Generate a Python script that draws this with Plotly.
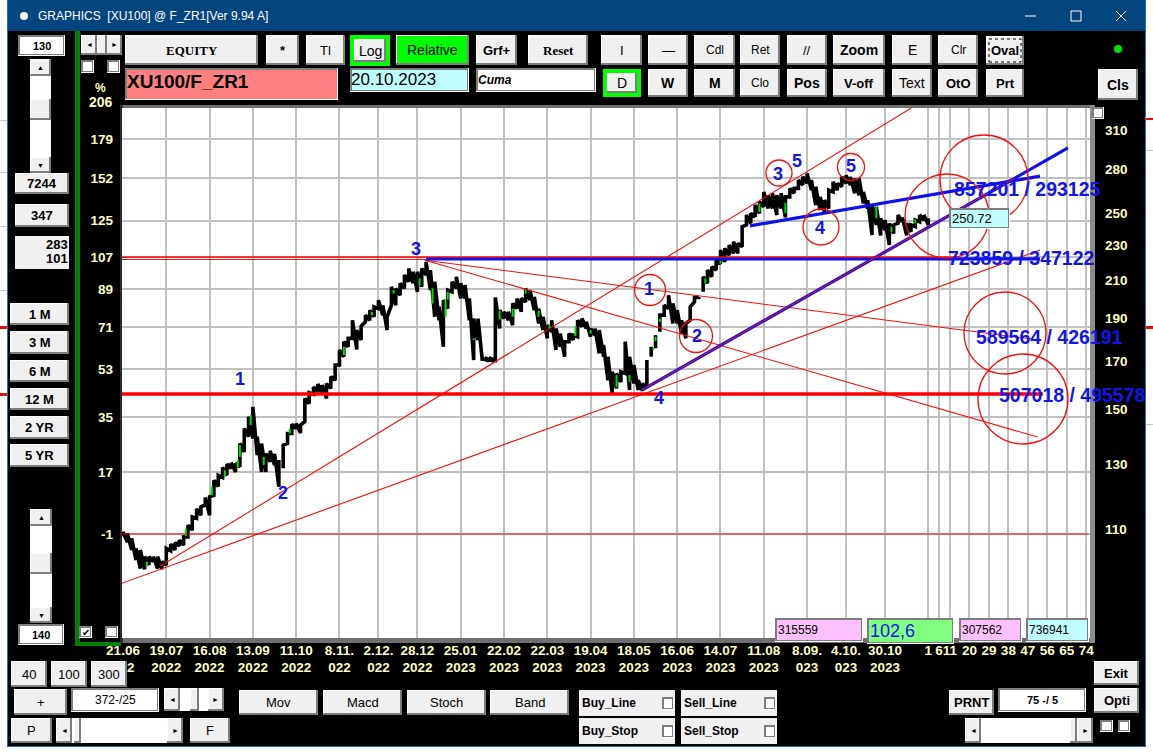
import plotly.graph_objects as go

W, H = 1153, 755

# daily bars, every second session
bar_day = list(range(0, 373, 2))
bar_high = [
    109.2, 108.8, 107.4, 104.6, 104.2, 102.4, 102.4, 102.4, 102.4, 101.1,
    104.6, 105.8, 106.2, 106.9, 107.8, 111.1, 113.5, 116.0, 116.5, 119.4,
    119.6, 124.9, 126.5, 129.1, 130.2, 130.7, 130.5, 137.4, 142.8, 147.3,
    151.1, 139.8, 137.4, 133.8, 134.8, 133.8, 131.6, 136.8, 141.0, 144.4,
    144.7, 144.1, 154.4, 156.7, 159.1, 160.3, 159.9, 160.5, 163.4, 168.4,
    175.1, 178.9, 180.5, 189.2, 184.4, 186.3, 191.7, 194.2, 195.9, 199.3,
    196.7, 190.9, 206.4, 205.5, 208.2, 212.8, 216.4, 214.6, 214.6, 216.4,
    220.2, 215.5, 209.1, 195.9, 199.3, 204.6, 209.1, 211.8, 208.2, 207.3,
    200.2, 190.0, 190.0, 171.3, 171.3, 171.3, 200.7, 194.2, 193.4, 193.4,
    197.6, 200.2, 200.2, 205.5, 204.6, 201.0, 195.0, 190.9, 186.8, 189.2,
    185.2, 182.8, 178.9, 182.8, 182.0, 189.2, 190.0, 188.4, 185.2, 185.2,
    184.4, 177.4, 172.1, 165.5, 164.8, 165.5, 178.9, 172.1, 168.4, 161.9,
    160.5, 170.6, 176.6, 182.0, 191.7, 196.7, 201.9, 197.6, 194.2, 189.2,
    187.6, 195.9, 200.7, 201.0, 211.8, 215.5, 217.4, 221.1, 227.0, 228.0,
    230.0, 232.0, 231.0, 241.2, 248.6, 249.7, 255.1, 257.3, 264.0, 261.7,
    263.0, 261.7, 263.0, 260.6, 266.4, 266.4, 272.2, 274.5, 277.0, 272.2,
    267.6, 260.6, 258.4, 265.2, 271.0, 269.9, 274.5, 275.7, 274.5, 273.4,
    273.4, 264.0, 258.4, 255.1, 254.0, 246.5, 245.4, 243.3, 242.3, 248.6,
    247.1, 243.3, 242.3, 245.4, 248.6, 248.6, 246.5,
]
bar_low = [
    108.0, 106.4, 104.2, 101.5, 99.3, 99.1, 100.2, 101.1, 99.3, 99.1,
    100.2, 104.0, 104.2, 105.3, 105.5, 107.8, 109.7, 113.1, 114.0, 117.1,
    114.0, 120.1, 122.9, 125.8, 126.5, 128.8, 127.6, 129.3, 134.4, 139.8,
    139.2, 133.3, 127.6, 127.6, 131.0, 129.9, 122.8, 128.8, 137.4, 141.0,
    142.8, 141.2, 145.4, 152.4, 156.1, 157.1, 156.1, 154.4, 158.5, 161.9,
    168.4, 172.1, 176.6, 180.5, 175.4, 179.7, 188.4, 189.2, 190.9, 195.0,
    191.7, 184.4, 196.7, 196.7, 201.9, 205.5, 209.1, 208.2, 203.7, 206.4,
    212.8, 204.6, 190.9, 189.2, 176.6, 195.0, 203.7, 205.5, 200.2, 200.2,
    189.2, 170.6, 179.7, 170.3, 170.6, 170.6, 170.6, 185.2, 190.0, 189.2,
    186.8, 195.0, 193.4, 198.4, 199.3, 194.2, 187.6, 184.4, 180.5, 183.6,
    175.1, 176.6, 172.1, 178.9, 179.7, 181.2, 186.0, 185.2, 181.2, 182.0,
    173.6, 172.1, 161.9, 156.4, 158.5, 161.2, 164.8, 157.8, 160.5, 157.8,
    157.5, 159.1, 172.1, 175.9, 183.6, 191.7, 195.0, 187.6, 187.6, 182.8,
    180.5, 189.2, 198.4, 200.7, 203.7, 208.2, 211.8, 215.5, 219.0, 220.1,
    224.0, 225.0, 225.0, 229.0, 242.3, 243.3, 247.5, 249.7, 254.0, 252.9,
    252.9, 248.6, 252.9, 247.0, 260.6, 263.0, 266.4, 268.7, 270.0, 265.2,
    255.1, 251.8, 250.7, 252.9, 264.0, 265.2, 267.6, 269.9, 268.7, 263.0,
    261.7, 256.2, 252.9, 236.0, 242.3, 235.8, 239.1, 230.0, 237.0, 243.3,
    244.3, 235.8, 238.0, 241.2, 244.3, 245.4, 242.3,
]
gap_days = [74, 244, 246, 248, 268]

# sessions that show as green bars inside the black run
green_day = [11, 29, 41, 47, 53, 54, 59, 65, 77, 102, 115, 125, 137, 143, 149, 150,
             162, 174, 180, 186, 192, 197, 209, 216, 228, 234, 245, 246, 248, 269, 276,
             294, 306, 348, 355, 366]
green_high = [101.1, 110.1, 122.8, 128.2, 131.6, 136.8, 147.9, 132.7, 142.8, 176.6, 193.4, 204.6, 210.9, 205.5, 199.3, 203.7,
              180.5, 193.9, 195.0, 204.6, 193.9, 186.8, 186.3, 184.4, 164.1, 164.1, 175.9, 181.2, 190.0, 210.9, 221.1,
              256.2, 256.6, 254.0, 241.2, 245.8]
green_low = [99.8, 108.0, 120.1, 126.0, 129.1, 132.7, 144.1, 129.9, 141.0, 172.9, 191.7, 202.8, 206.8, 197.6, 190.9, 199.6,
             179.7, 189.5, 190.9, 202.8, 190.9, 185.2, 181.5, 182.8, 159.1, 161.2, 175.1, 179.2, 188.4, 208.2, 219.2,
             250.7, 249.7, 246.5, 238.0, 243.3]

# trend lines: start day/price, end day/price
red_day0 = [-1.4, 17.1, 139.5, 139.5, -0.5, -0.5, -0.5]
red_price0 = [95.4, 99.9, 221.1, 221.1, 222.9, 221.5, 108.6]
red_day1 = [423.6, 367.2, 422.6, 423.6, 385, 385, 446]
red_price1 = [227.0, 331.7, 139.7, 179.7, 222.9, 221.5, 108.6]

support_day = [-1.4, 424.9]
support_price = [156.2, 156.2]

blue_day0 = [140.0, 239.7, 289.6]
blue_price0 = [221.9, 157.8, 241.7]
blue_day1 = [423.6, 436.5, 423.6]
blue_price1 = [221.9, 295.9, 275.0]
core_day = [239.7, 412.0]
core_price = [157.8, 273.7]

# axes
tick_days = [0, 20, 40, 60, 80, 100, 118, 136, 156, 176, 196, 216, 236, 256, 276, 296, 316, 334, 352,
             372, 377, 382, 391, 400, 409, 418, 427, 436, 445]
tick_dates = ['21.06', '19.07<br>2022', '16.08<br>2022', '13.09<br>2022', '11.10<br>2022',
              '8.11.<br>022', '2.12.<br>022', '28.12<br>2022', '25.01<br>2023', '22.02<br>2023',
              '22.03<br>2023', '19.04<br>2023', '18.05<br>2023', '16.06<br>2023', '14.07<br>2023',
              '11.08<br>2023', '8.09.<br>023', '4.10.<br>023', '30.10<br>2023',
              '1', '6', '11', '20', '29', '38', '47', '56', '65', '74']
pct_prices = [108.6, 127.6, 147.0, 166.5, 185.9, 205.2, 222.8, 245.0, 273.6, 303.0]
pct_labels = ['-1', '17', '35', '53', '71', '89', '107', '125', '152', '179']
price_ticks = [110, 130, 150, 170, 190, 210, 230, 250, 280, 310]

# red rings around the wave counts, pixel centre and radius
ring_x = [650, 696, 779, 851, 821, 984, 947, 1005, 1023]
ring_y = [290, 336, 173, 167, 227, 179, 216, 333, 399]
ring_r = [15.5, 16.5, 13, 13.5, 18, 44, 42, 41, 45]

wave_labels = ['1', '2', '3', '4', '1', '2', '3', '5', '5', '4']
wave_x = [240, 283, 416, 659, 649, 697, 778, 797, 851, 820]
wave_y = [379, 493, 249, 398, 289, 336, 174, 161, 166, 228]

order_labels = ['857201 / 293125', '723859 / 347122', '589564 / 426191', '507018 / 495578']
order_x = [1027, 1021.5, 1049, 1072]
order_y = [189, 258, 337, 395]

# left, top, right, bottom, text
top_buttons = [
    (266, 35, 299, 65, '*'), (306, 35, 345, 65, 'Tl'), (476, 35, 517, 65, 'Grf+'),
    (601, 35, 642, 65, 'I'), (648, 35, 688, 65, '—'), (694, 35, 735, 65, 'Cdl'), (740, 35, 780, 65, 'Ret'),
    (787, 35, 827, 65, '//'), (833, 35, 885, 65, 'Zoom'), (892, 35, 932, 65, 'E'), (938, 35, 978, 65, 'Clr'),
    (986, 36, 1024, 65, 'Oval'),
    (648, 69, 688, 97, 'W'), (694, 69, 735, 97, 'M'), (740, 69, 780, 97, 'Clo'), (787, 69, 827, 97, 'Pos'),
    (833, 69, 885, 97, 'V-off'), (892, 69, 932, 97, 'Text'), (938, 69, 978, 97, 'OtO'), (986, 69, 1024, 97, 'Prt'),
    (1098, 69, 1138, 100, 'Cls'),
    (15, 173, 69, 194, '7244'), (15, 204, 69, 227, '347'),
    (10, 303, 69, 325, '1 M'), (10, 331, 69, 354, '3 M'), (10, 360, 69, 382, '6 M'),
    (10, 388, 69, 410, '12 M'), (10, 416, 69, 439, '2 YR'), (10, 444, 69, 467, '5 YR'),
    (11, 661, 47, 687, '40'), (51, 661, 87, 687, '100'), (91, 661, 127, 687, '300'),
    (14, 689, 67, 715, '+'), (239, 690, 318, 715, 'Mov'), (323, 690, 402, 715, 'Macd'),
    (407, 690, 486, 715, 'Stoch'), (490, 690, 569, 715, 'Band'),
    (11, 718, 52, 743, 'P'), (190, 718, 230, 743, 'F'), (949, 690, 994, 715, 'PRNT'),
    (1094, 661, 1139, 685, 'Exit'), (1094, 688, 1139, 713, 'Opti'),
]
thin_labels = ['Tl', 'I', '—', 'Cdl', 'Ret', '//', 'E', 'Clr', 'Clo', 'Text', '40', '100', '300', '+',
               'Mov', 'Macd', 'Stoch', 'Band', 'P', 'F']
large_labels = ['Zoom', 'W', 'M', 'Pos', 'Cls', 'Text', 'E']
serif_buttons = [(125, 35, 258, 65, 'EQUITY'), (528, 35, 588, 65, 'Reset')]
entry_boxes = [
    (18, 35, 65, 56, '130', '#ffffff', 11, True), (18, 624, 64, 645, '140', '#ffffff', 11, True),
    (71, 688, 159, 712, '372-/25', '#ffffff', 12, False), (998, 688, 1086, 712, '75 -/ 5', '#ffffff', 11, True),
    (775, 618, 863, 642, '315559', '#ffc0ff', 12, False), (867, 618, 954, 644, '102,6', '#80ff80', 18, False),
    (959, 618, 1022, 642, '307562', '#ffc0ff', 12, False), (1026, 618, 1089, 642, '736941', '#c0ffff', 12, False),
]
check_boxes = [(81, 60, 94, 73), (107, 60, 120, 73), (105, 626, 118, 638), (79, 626, 92, 638),
               (1092, 107, 1104, 119), (1100, 720, 1113, 732), (1118, 720, 1130, 732)]
order_rows = [(579, 690, 675, 716, 'Buy_Line'), (681, 690, 777, 716, 'Sell_Line'),
              (579, 718, 675, 744, 'Buy_Stop'), (681, 718, 777, 744, 'Sell_Stop')]

CREAM = '#ffffc4'
FACE = '#f0f0f0'
INK = '#1414e6'
shapes = []
notes = []


def X(px):
    return px / W


def Y(py):
    return 1 - py / H


def rect(x0, y0, x1, y1, fill, layer='above', line=None, width=0):
    shapes.append(dict(type='rect', xref='paper', yref='paper', x0=X(x0), x1=X(x1), y0=Y(y1), y1=Y(y0),
                       fillcolor=fill, layer=layer, line=dict(color=line or fill, width=width)))


def text(x, y, s, size=12, color='#000000', bold=False, family='Liberation Sans', anchor='center', italic=False):
    notes.append(dict(xref='paper', yref='paper', x=X(x), y=Y(y), text=s, showarrow=False,
                      xanchor=anchor, yanchor='middle', align=anchor,
                      font=dict(size=size, color=color, family=family, weight=700 if bold else 400,
                                style='italic' if italic else 'normal')))


def button(x0, y0, x1, y1, s='', size=13, bold=True, family='Liberation Sans', face=FACE):
    rect(x0, y0, x1, y1, '#7d7d7d')
    rect(x0, y0, x1 - 2, y1 - 2, '#ffffff')
    rect(x0 + 1, y0 + 1, x1 - 2, y1 - 2, face)
    if s:
        text((x0 + x1) / 2, (y0 + y1) / 2, s, size, bold=bold, family=family)


def sunken(x0, y0, x1, y1, fill='#ffffff'):
    rect(x0, y0, x1, y1, '#ffffff')
    rect(x0, y0, x1 - 1, y1 - 1, '#7d7d7d')
    rect(x0 + 2, y0 + 2, x1 - 2, y1 - 2, fill)


def scroll_v(x0, y0, x1, y1, t0, t1):
    rect(x0, y0, x1, y1, '#ffffff')
    button(x0, y0, x1, y0 + 17, '▲', 7)
    button(x0, y1 - 16, x1, y1, '▼', 7)
    button(x0, t0, x1, t1)


def scroll_h(x0, y0, x1, y1, t0, t1):
    rect(x0, y0, x1, y1, '#ffffff')
    button(x0, y0, x0 + 16, y1, '◄', 7)
    button(x1 - 16, y0, x1, y1, '►', 7)
    button(t0, y0, t1, y1)


# window, title bar and chart panel, all under the gridlines
rect(8, 0, 1145, 747, '#000000', 'below')
rect(7, 0, 8, 747, '#2a6ea8', 'below')
rect(1145, 0, 1146, 747, '#2a6ea8', 'below')
rect(7, 746, 1146, 747, '#2a6ea8', 'below')
rect(8, 0, 1145, 31, '#03467f', 'below')
rect(75, 31, 80, 645, '#008000', 'below')
rect(75, 642, 121, 646, '#008000', 'below')
rect(120, 105, 1095, 643, '#6f6f6f', 'below')
rect(120, 105, 123, 643, '#2c2c2c', 'below')
rect(1090, 105, 1095, 643, '#8c8c8c', 'below')
rect(122, 108, 1090, 638, '#ffffff', 'below')

# scraps of the window behind this one
for y0, y1, col in [(120, 121, '#c8c8c8'), (172, 173, '#c8c8c8'), (226, 227, '#c8c8c8'), (290, 291, '#c8c8c8'),
                    (326, 329, '#e01010'), (393, 396, '#e01010')]:
    rect(0, y0, 7, y1, col, 'below')
for y0, y1, col in [(118, 120, '#e01010'), (150, 151, '#c8c8c8'), (326, 329, '#e01010'), (424, 425, '#c8c8c8')]:
    rect(1146, y0, 1153, y1, col, 'below')

for x, y, r in zip(ring_x, ring_y, ring_r):
    shapes.append(dict(type='circle', xref='paper', yref='paper', x0=X(x - r), x1=X(x + r),
                       y0=Y(y + r), y1=Y(y - r), line=dict(color='#f01010', width=1.3), layer='above'))

for b in top_buttons:
    button(b[0], b[1], b[2], b[3], b[4], 14 if b[4] in large_labels else 13 if b[4] not in ('Cdl', 'Ret', 'Clr', 'Clo') else 12,
           b[4] not in thin_labels)
for b in serif_buttons:
    button(b[0], b[1], b[2], b[3], b[4], 13, True, 'Liberation Serif')

# focus mark on the Oval button
shapes.append(dict(type='rect', xref='paper', yref='paper', x0=X(989), x1=X(1021), y0=Y(62), y1=Y(39),
                   line=dict(color='#000000', width=1, dash='dot'), layer='above'))

# highlighted controls
rect(350, 35, 390, 66, '#00ff00')
button(354, 39, 386, 62, 'Log', 14, False)
button(396, 35, 469, 65, 'Relative', 14, False, face='#00ff00')
rect(603, 69, 641, 97, '#00ff00')
button(607, 73, 637, 93, 'D', 14, False)

rect(125, 68, 338, 100, '#ffffff')
rect(125, 68, 337, 99, '#7d7d7d')
rect(127, 70, 337, 99, '#ff8080')
text(125, 82, 'XU100/F_ZR1', 19, bold=True, anchor='left')
sunken(350, 68, 469, 92, '#c0ffff')
text(349, 79, '20.10.2023', 17, anchor='left')
sunken(476, 68, 596, 92)
text(476, 80, 'Cuma', 12, italic=True, bold=True, anchor='left')

for b in entry_boxes:
    sunken(b[0], b[1], b[2], b[3], b[5])
    if b[4] == '102,6':
        text(868, 631, b[4], b[6], INK, anchor='left')
    elif b[1] == 618:
        text(b[0] + 1, (b[1] + b[3]) / 2, b[4], b[6], bold=b[7], anchor='left')
    else:
        text((b[0] + b[2]) / 2, (b[1] + b[3]) / 2, b[4], b[6], bold=b[7])

rect(15, 236, 69, 269, FACE)
text(70, 244, '283', 13, bold=True, anchor='right')
text(70, 259, '101', 13, bold=True, anchor='right')

for c in check_boxes:
    sunken(c[0], c[1], c[2], c[3])
text(85.5, 632, '✔', 10)

scroll_h(81, 35, 122, 55, 97, 107)
scroll_v(30, 59, 51, 173, 99, 120)
scroll_v(30, 509, 52, 623, 553, 574)
scroll_h(164, 688, 224, 711, 190, 199)
scroll_h(56, 718, 183, 743, 74, 81)
scroll_h(965, 718, 1093, 743, 1070, 1077)

for r in order_rows:
    rect(r[0], r[1], r[2], r[3], FACE)
    text(r[0] + 1, (r[1] + r[3]) / 2, r[4], 12, bold=True, anchor='left')
    sunken(r[2] - 13, r[1] + 7, r[2] - 1, r[1] + 20)

# title bar text and window controls
text(36, 16, 'GRAPHICS\u00a0\u00a0[XU100] @ F_ZR1[Ver 9.94 A]', 12, '#ffffff', anchor='left')
shapes.append(dict(type='circle', xref='paper', yref='paper', x0=X(20), x1=X(28), y0=Y(20), y1=Y(12),
                   fillcolor='#ffffff', line=dict(color='#ffffff', width=0)))
shapes.append(dict(type='line', xref='paper', yref='paper', x0=X(1025), x1=X(1036), y0=Y(16), y1=Y(16),
                   line=dict(color='#ffffff', width=1)))
shapes.append(dict(type='rect', xref='paper', yref='paper', x0=X(1071), x1=X(1081), y0=Y(21), y1=Y(11),
                   line=dict(color='#ffffff', width=1)))
shapes.append(dict(type='line', xref='paper', yref='paper', x0=X(1116), x1=X(1126), y0=Y(21), y1=Y(11),
                   line=dict(color='#ffffff', width=1)))
shapes.append(dict(type='line', xref='paper', yref='paper', x0=X(1116), x1=X(1126), y0=Y(11), y1=Y(21),
                   line=dict(color='#ffffff', width=1)))
shapes.append(dict(type='circle', xref='paper', yref='paper', x0=X(1114), x1=X(1122), y0=Y(53), y1=Y(45),
                   fillcolor='#00e000', line=dict(color='#00e000', width=0)))

text(100, 88, '%', 12, CREAM, True)
text(101, 102, '206', 14, CREAM, True)
# tail of the first date label, the rest sits behind the 300 button
text(131, 667, '2', 13.5, CREAM, True)

# last price tag
sunken(949, 208, 1010, 229, '#c0ffff')
text(950, 218, '250.72', 13, anchor='left')

for s, x, y in zip(wave_labels, wave_x, wave_y):
    text(x, y, s, 18, INK, True)
for s, x, y in zip(order_labels, order_x, order_y):
    text(x, y, s, 19.5, INK, True)

# bars drawn as one heavy zigzag, low to high for each session
path_x, path_y = [], []
for d, hi, lo in zip(bar_day, bar_high, bar_low):
    if d in gap_days:
        path_x.append(None)
        path_y.append(None)
    path_x += [d, d]
    path_y += [lo, hi]

green_x, green_y = [], []
for d, hi, lo in zip(green_day, green_high, green_low):
    green_x += [d, d, None]
    green_y += [lo, hi, None]

fig = go.Figure()
fig.add_trace(go.Scatter(x=path_x, y=path_y, mode='lines', line=dict(color='#000000', width=3.6),
                         connectgaps=False, hoverinfo='skip'))
fig.add_trace(go.Scatter(x=green_x, y=green_y, mode='lines', line=dict(color='#00e000', width=2), hoverinfo='skip'))

for i in range(len(red_day0)):
    fig.add_trace(go.Scatter(x=[red_day0[i], red_day1[i]], y=[red_price0[i], red_price1[i]], mode='lines', yaxis='y2',
                             line=dict(color='#f01010', width=1.1), hoverinfo='skip'))
for i in range(len(blue_day0)):
    fig.add_trace(go.Scatter(x=[blue_day0[i], blue_day1[i]], y=[blue_price0[i], blue_price1[i]], mode='lines', yaxis='y2',
                             line=dict(color='#1010e8', width=3.2), hoverinfo='skip'))
fig.add_trace(go.Scatter(x=core_day, y=core_price, mode='lines', yaxis='y2',
                         line=dict(color='#f01010', width=1), hoverinfo='skip'))
fig.add_trace(go.Scatter(x=[red_day0[4], red_day1[4]], y=[red_price0[4], red_price1[4]], mode='lines', yaxis='y2',
                         line=dict(color='#f01010', width=1), hoverinfo='skip'))
fig.add_trace(go.Scatter(x=support_day, y=support_price, mode='lines', yaxis='y2',
                         line=dict(color='#ff0000', width=3.4), hoverinfo='skip'))

tickfont = dict(family='Liberation Sans', size=13.5, color=CREAM, weight=700)
y_range = [1.9186, 2.5162]
fig.update_layout(
    width=W, height=H, autosize=False, showlegend=False,
    margin=dict(l=0, r=0, t=0, b=0, pad=0), paper_bgcolor='#ffffff', plot_bgcolor='rgba(0,0,0,0)',
    shapes=shapes, annotations=notes,
    xaxis=dict(domain=[X(122), X(1090)], range=[-0.46, 446.7], tickmode='array', tickvals=tick_days,
               ticktext=tick_dates, tickfont=tickfont, showgrid=True, gridcolor='#c0c0c0', gridwidth=1.5,
               zeroline=False, showline=False, ticks='', tickangle=0, ticklabelstandoff=2, automargin=False),
    yaxis=dict(domain=[Y(638), Y(108)], type='log', range=y_range, tickmode='array', tickvals=pct_prices,
               ticktext=pct_labels, tickfont=tickfont, showgrid=True, gridcolor='#c0c0c0', gridwidth=1.5,
               zeroline=False, showline=False, ticks='', ticklabelstandoff=8, automargin=False),
    yaxis2=dict(domain=[Y(638), Y(108)], type='log', range=y_range, overlaying='y', side='right', tickmode='array',
                tickvals=price_ticks, ticktext=[str(p) for p in price_ticks], tickfont=tickfont, showgrid=False,
                zeroline=False, showline=False, ticks='', ticklabelstandoff=14, automargin=False),
)

assert len(bar_high) == len(bar_low) == len(bar_day)
assert len(green_day) == len(green_high) == len(green_low)

fig.write_html("out.html", config={"displayModeBar": False},
               post_script="document.body.style.margin='0';document.body.style.overflow='hidden';")
